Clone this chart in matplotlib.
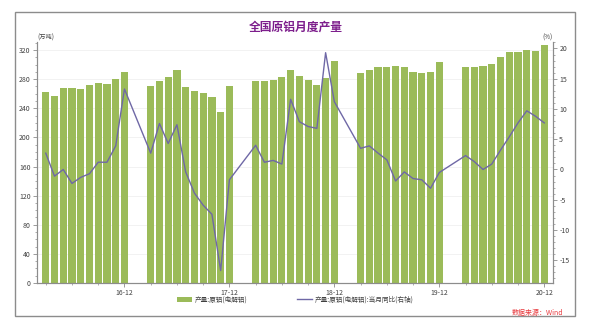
import numpy as np
import matplotlib
matplotlib.use("Agg")
import matplotlib.pyplot as plt
from matplotlib.patches import Patch, Rectangle
from matplotlib.lines import Line2D
from matplotlib.ticker import MultipleLocator, FixedLocator

plt.rcParams['font.family'] = ['Noto Sans CJK SC', 'DejaVu Sans']
plt.rcParams['axes.unicode_minus'] = False

# -------------------------------------------------------------------
# data: monthly, Mar-Dec each year (Jan/Feb not published)
# -------------------------------------------------------------------
years = [2016, 2017, 2018, 2019, 2020]
months = [3, 4, 5, 6, 7, 8, 9, 10, 11, 12]

output_2016 = [262, 257, 268, 268, 266, 272, 275, 273, 280, 290]
output_2017 = [271, 277, 283, 293, 269, 264, 261, 255, 235, 271]
output_2018 = [278, 277, 279, 283, 293, 284, 279, 272, 282, 305]
output_2019 = [288, 292, 297, 297, 298, 297, 290, 288, 290, 303]
output_2020 = [297, 297, 298, 301, 310, 317, 317, 320, 318, 327]

yoy_2016 = [2.7, -1.1, 0.0, -2.3, -1.3, -0.7, 1.2, 1.2, 3.9, 13.3]
yoy_2017 = [2.7, 7.6, 4.3, 7.4, -0.4, -3.9, -5.9, -7.4, -16.7, -1.7]
yoy_2018 = [4.0, 1.2, 1.5, 0.9, 11.6, 7.9, 7.1, 6.8, 19.3, 11.2]
yoy_2019 = [3.5, 3.9, 2.7, 1.6, -1.9, -0.4, -1.5, -1.7, -3.1, -0.5]
yoy_2020 = [2.3, 1.3, 0.0, 0.9, 3.2, 5.4, 7.7, 9.7, 8.8, 7.7]

tick_labels = ['16-12', '17-12', '18-12', '19-12', '20-12']

output = output_2016 + output_2017 + output_2018 + output_2019 + output_2020
yoy = yoy_2016 + yoy_2017 + yoy_2018 + yoy_2019 + yoy_2020

# month index, 0 = 2016-03
pos = np.array([(y - 2016) * 12 + (m - 3) for y in years for m in months])

bar_color = '#9bbb59'
line_color = '#6f68a6'
text_color = '#404040'
spine_color = '#8c8c8c'

fig = plt.figure(figsize=(5.91, 3.28), dpi=100)
ax = fig.add_axes([37 / 591, 45 / 328, (553 - 37) / 591, (283 - 42) / 328])
ax2 = ax.twinx()

ax.bar(pos, output, width=0.82, color=bar_color, zorder=2)
ax2.plot(pos, yoy, color=line_color, linewidth=1.0, zorder=3)

ax.set_xlim(-1, 58)
ax.set_ylim(0, 331)
ax2.set_ylim(-18.76, 21.07)

ax.yaxis.set_major_locator(MultipleLocator(40))
ax.yaxis.set_minor_locator(MultipleLocator(10))
ax2.yaxis.set_major_locator(FixedLocator([-15, -10, -5, 0, 5, 10, 15, 20]))
ax2.yaxis.set_minor_locator(MultipleLocator(1))

ax.set_xticks([9, 21, 33, 45, 57])
ax.set_xticklabels(tick_labels)
ax.xaxis.set_minor_locator(FixedLocator(list(range(0, 58, 3))))

ax.grid(axis='y', color='#f0f0f0', linewidth=0.6, zorder=0)
ax.set_axisbelow(True)

for a in (ax, ax2):
    a.spines['top'].set_visible(False)
    for s in ('left', 'right', 'bottom'):
        a.spines[s].set_color(spine_color)
        a.spines[s].set_linewidth(0.8)
    a.tick_params(which='major', length=3, width=0.6, color=spine_color,
                  labelsize=5, labelcolor=text_color, pad=1.5)
    a.tick_params(which='minor', length=1.5, width=0.5, color=spine_color)

ax.text(0.0, 1.0, '(万吨)', transform=ax.transAxes, fontsize=4.5,
        color=text_color, ha='left', va='bottom')
ax2.text(1.0, 1.0, '(%)', transform=ax2.transAxes, fontsize=4.5,
         color=text_color, ha='right', va='bottom')

fig.text(0.5, 1 - 27 / 328, '全国原铝月度产量', fontsize=8.5, fontweight='bold',
         color='#7d1e8c', ha='center', va='center')

handles = [Patch(facecolor=bar_color, edgecolor='none'),
           Line2D([], [], color=line_color, linewidth=1.0)]
fig.legend(handles, ['产量:原铝(电解铝)', '产量:原铝(电解铝):当月同比(右轴)'],
           loc='center', bbox_to_anchor=(0.5, 1 - 300 / 328), ncol=2,
           frameon=False, fontsize=4.8, handlelength=2.2, handleheight=0.9,
           columnspacing=7.5, handletextpad=0.4, labelcolor=text_color)

fig.text(563 / 591, 1 - 313 / 328, '数据来源：Wind', fontsize=5, color='#e8393d',
         style='italic', ha='right', va='center')

fig.patches.append(Rectangle((15 / 591, 1 - 316 / 328), (575 - 15) / 591,
                             (316 - 12) / 328, transform=fig.transFigure,
                             fill=False, edgecolor='#8c8c8c', linewidth=1.0))

fig.savefig('out.png', dpi=100)
